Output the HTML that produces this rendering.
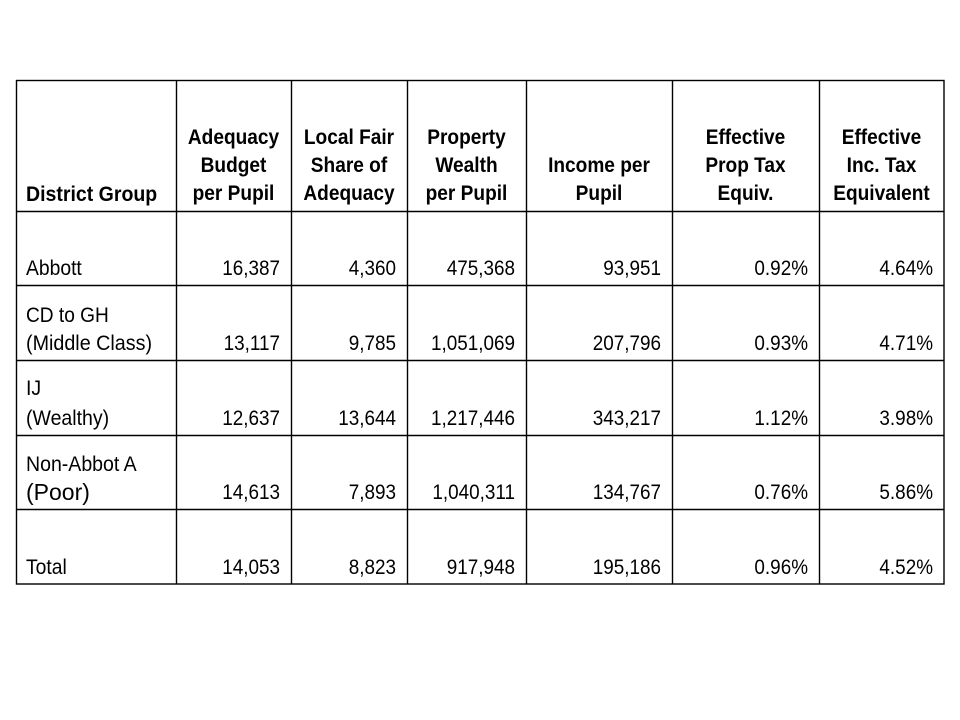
<!DOCTYPE html>
<html>
<head>
<meta charset="utf-8">
<style>
  html,body{margin:0;padding:0;background:#fff;}
  svg{display:block;}
  text{font-family:"Liberation Sans",Arial,sans-serif;fill:#000;}
  .h{font-weight:bold;font-size:21px;text-anchor:middle;}
  .hl{font-weight:bold;font-size:21px;}
  .d{font-size:21px;text-anchor:end;}
  .l{font-size:21px;}
  .lb{font-size:23px;}
</style>
</head>
<body>
<svg width="960" height="720" viewBox="0 0 960 720" xmlns="http://www.w3.org/2000/svg">
  <rect width="960" height="720" fill="#fff"/>
  <g stroke="#000" stroke-width="1.4" fill="none">
    <rect x="16.5" y="80.5" width="927.5" height="503.5"/>
    <line x1="176.5" y1="80" x2="176.5" y2="584"/>
    <line x1="291.5" y1="80" x2="291.5" y2="584"/>
    <line x1="407.5" y1="80" x2="407.5" y2="584"/>
    <line x1="526.5" y1="80" x2="526.5" y2="584"/>
    <line x1="672.5" y1="80" x2="672.5" y2="584"/>
    <line x1="819.5" y1="80" x2="819.5" y2="584"/>
    <line x1="16" y1="211.5" x2="944" y2="211.5"/>
    <line x1="16" y1="285.5" x2="944" y2="285.5"/>
    <line x1="16" y1="360.5" x2="944" y2="360.5"/>
    <line x1="16" y1="435.5" x2="944" y2="435.5"/>
    <line x1="16" y1="509.5" x2="944" y2="509.5"/>
  </g>

  <!-- Header -->
  <text class="hl" transform="translate(26,201) scale(0.93,1)">District Group</text>

  <text class="h" transform="translate(233.5,144) scale(0.91,1)">Adequacy</text>
  <text class="h" transform="translate(233.5,172) scale(0.91,1)">Budget</text>
  <text class="h" transform="translate(233.5,200) scale(0.91,1)">per Pupil</text>

  <text class="h" transform="translate(349,144) scale(0.91,1)">Local Fair</text>
  <text class="h" transform="translate(349,172) scale(0.91,1)">Share of</text>
  <text class="h" transform="translate(349,200) scale(0.91,1)">Adequacy</text>

  <text class="h" transform="translate(466.5,144) scale(0.91,1)">Property</text>
  <text class="h" transform="translate(466.5,172) scale(0.91,1)">Wealth</text>
  <text class="h" transform="translate(466.5,200) scale(0.91,1)">per Pupil</text>

  <text class="h" transform="translate(599,172) scale(0.91,1)">Income per</text>
  <text class="h" transform="translate(599,200) scale(0.91,1)">Pupil</text>

  <text class="h" transform="translate(745.5,144) scale(0.91,1)">Effective</text>
  <text class="h" transform="translate(745.5,172) scale(0.91,1)">Prop Tax</text>
  <text class="h" transform="translate(745.5,200) scale(0.91,1)">Equiv.</text>

  <text class="h" transform="translate(881.5,144) scale(0.91,1)">Effective</text>
  <text class="h" transform="translate(881.5,172) scale(0.91,1)">Inc. Tax</text>
  <text class="h" transform="translate(881.5,200) scale(0.91,1)">Equivalent</text>

  <!-- Row: Abbott -->
  <text class="l" transform="translate(26,275) scale(0.92,1)">Abbott</text>
  <text class="d" transform="translate(280,275) scale(0.9,1)">16,387</text>
  <text class="d" transform="translate(396,275) scale(0.9,1)">4,360</text>
  <text class="d" transform="translate(515,275) scale(0.9,1)">475,368</text>
  <text class="d" transform="translate(661,275) scale(0.9,1)">93,951</text>
  <text class="d" transform="translate(808,275) scale(0.9,1)">0.92%</text>
  <text class="d" transform="translate(933,275) scale(0.9,1)">4.64%</text>

  <!-- Row: CD to GH -->
  <text class="l" transform="translate(26,322) scale(0.91,1)">CD to GH</text>
  <text class="l" transform="translate(26,350) scale(0.94,1)">(Middle Class)</text>
  <text class="d" transform="translate(280,350) scale(0.9,1)">13,117</text>
  <text class="d" transform="translate(396,350) scale(0.9,1)">9,785</text>
  <text class="d" transform="translate(515,350) scale(0.9,1)">1,051,069</text>
  <text class="d" transform="translate(661,350) scale(0.9,1)">207,796</text>
  <text class="d" transform="translate(808,350) scale(0.9,1)">0.93%</text>
  <text class="d" transform="translate(933,350) scale(0.9,1)">4.71%</text>

  <!-- Row: IJ -->
  <text class="l" transform="translate(26,395) scale(0.93,1)">IJ</text>
  <text class="l" transform="translate(26,425) scale(0.93,1)">(Wealthy)</text>
  <text class="d" transform="translate(280,425) scale(0.9,1)">12,637</text>
  <text class="d" transform="translate(396,425) scale(0.9,1)">13,644</text>
  <text class="d" transform="translate(515,425) scale(0.9,1)">1,217,446</text>
  <text class="d" transform="translate(661,425) scale(0.9,1)">343,217</text>
  <text class="d" transform="translate(808,425) scale(0.9,1)">1.12%</text>
  <text class="d" transform="translate(933,425) scale(0.9,1)">3.98%</text>

  <!-- Row: Non-Abbot A -->
  <text class="l" transform="translate(26,471) scale(0.93,1)">Non-Abbot A</text>
  <text class="lb" transform="translate(26,500) scale(1.0,1)">(Poor)</text>
  <text class="d" transform="translate(280,499) scale(0.9,1)">14,613</text>
  <text class="d" transform="translate(396,499) scale(0.9,1)">7,893</text>
  <text class="d" transform="translate(515,499) scale(0.9,1)">1,040,311</text>
  <text class="d" transform="translate(661,499) scale(0.9,1)">134,767</text>
  <text class="d" transform="translate(808,499) scale(0.9,1)">0.76%</text>
  <text class="d" transform="translate(933,499) scale(0.9,1)">5.86%</text>

  <!-- Row: Total -->
  <text class="l" transform="translate(26,574) scale(0.92,1)">Total</text>
  <text class="d" transform="translate(280,574) scale(0.9,1)">14,053</text>
  <text class="d" transform="translate(396,574) scale(0.9,1)">8,823</text>
  <text class="d" transform="translate(515,574) scale(0.9,1)">917,948</text>
  <text class="d" transform="translate(661,574) scale(0.9,1)">195,186</text>
  <text class="d" transform="translate(808,574) scale(0.9,1)">0.96%</text>
  <text class="d" transform="translate(933,574) scale(0.9,1)">4.52%</text>
</svg>
</body>
</html>
